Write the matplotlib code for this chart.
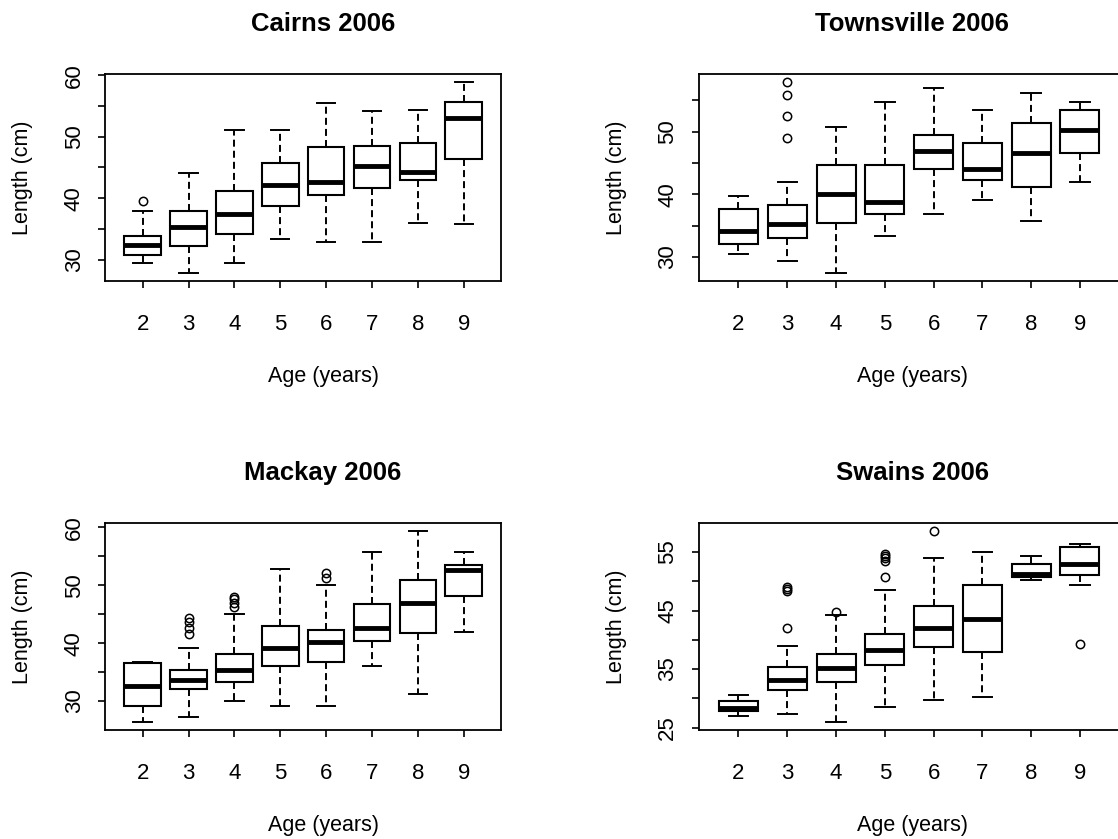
import matplotlib
matplotlib.use("Agg")
import matplotlib.pyplot as plt
import numpy as np

plt.rcParams['font.family'] = ['Liberation Sans', 'DejaVu Sans']

ages = [2, 3, 4, 5, 6, 7, 8, 9]

# Cairns 2006
cairns_lo  = [29.4, 27.8, 29.4, 33.4, 32.9, 32.9, 36.0, 35.8]
cairns_q1  = [30.7, 32.3, 34.2, 38.8, 40.5, 41.6, 42.9, 46.4]
cairns_med = [32.4, 35.3, 37.4, 42.2, 42.7, 45.3, 44.3, 53.1]
cairns_q3  = [33.9, 37.9, 41.1, 45.8, 48.3, 48.5, 49.0, 55.7]
cairns_hi  = [37.9, 44.1, 51.1, 51.1, 55.5, 54.1, 54.3, 58.9]
cairns_out = [[39.5], [], [], [], [], [], [], []]

# Townsville 2006
towns_lo  = [30.5, 29.3, 27.4, 33.4, 36.8, 39.1, 35.7, 42.0]
towns_q1  = [32.1, 33.1, 35.5, 36.8, 44.1, 42.2, 41.2, 46.6]
towns_med = [34.2, 35.2, 40.1, 38.8, 46.9, 44.0, 46.6, 50.3]
towns_q3  = [37.6, 38.3, 44.6, 44.6, 49.5, 48.2, 51.4, 53.4]
towns_hi  = [39.7, 41.9, 50.8, 54.7, 57.0, 53.4, 56.2, 54.7]
towns_out = [[], [49.0, 52.4, 55.9, 57.9], [], [], [], [], [], []]

# Mackay 2006
mackay_lo  = [26.3, 27.2, 30.0, 29.1, 29.1, 36.0, 31.2, 41.9]
mackay_q1  = [29.1, 32.0, 33.2, 36.0, 36.8, 40.4, 41.8, 48.1]
mackay_med = [32.6, 33.7, 35.4, 39.1, 40.2, 42.7, 47.0, 52.7]
mackay_q3  = [36.5, 35.4, 38.2, 43.0, 42.2, 46.7, 50.9, 53.5]
mackay_hi  = [36.8, 39.1, 45.0, 52.9, 50.1, 55.8, 59.4, 55.8]
mackay_out = [[], [41.6, 42.6, 43.6, 44.3], [46.2, 47.0, 47.6, 48.0], [], [51.2, 52.2], [], [], []]

# Swains 2006
swains_lo  = [27.0, 27.3, 25.9, 28.6, 29.8, 30.3, 50.2, 49.4]
swains_q1  = [27.8, 31.5, 32.8, 35.7, 38.8, 37.9, 50.7, 51.0]
swains_med = [28.4, 33.2, 35.1, 38.2, 42.1, 43.5, 51.3, 53.0]
swains_q3  = [29.5, 35.4, 37.6, 41.0, 45.7, 49.4, 53.0, 55.8]
swains_hi  = [30.6, 39.0, 44.3, 48.5, 53.9, 55.0, 54.4, 56.4]
swains_out = [[], [42.1, 48.3, 48.7, 49.0], [44.8], [50.7, 53.5, 53.9, 54.3, 54.7], [58.6], [], [], [39.3]]

titles = ["Cairns 2006", "Townsville 2006", "Mackay 2006", "Swains 2006"]
yticks = [np.arange(30, 61, 5), np.arange(30, 56, 5), np.arange(30, 61, 5), np.arange(25, 56, 5)]
ylabels_shown = [[30, 40, 50, 60], [30, 40, 50], [30, 40, 50, 60], [25, 35, 45, 55]]

panels = [
    (cairns_lo, cairns_q1, cairns_med, cairns_q3, cairns_hi, cairns_out),
    (towns_lo, towns_q1, towns_med, towns_q3, towns_hi, towns_out),
    (mackay_lo, mackay_q1, mackay_med, mackay_q3, mackay_hi, mackay_out),
    (swains_lo, swains_q1, swains_med, swains_q3, swains_hi, swains_out),
]

W, H = 1118, 839
fig = plt.figure(figsize=(W / 100, H / 100), dpi=100)

# axes rectangles in pixels: left, top, width, height
rects = [(105, 74.3, 396.4, 206.7), (698.5, 74.3, 421.4, 206.7),
         (105, 523.3, 396.4, 206.7), (698.5, 523.3, 421.4, 206.7)]
# horizontal centre of title / x label, in axes fraction
text_x = [0.55, 0.507, 0.55, 0.507]

for i, (lo, q1, med, q3, hi, out) in enumerate(panels):
    l, t, w, h = rects[i]
    ax = fig.add_axes([l / W, (H - t - h) / H, w / W, h / H])
    stats = []
    for k in range(len(ages)):
        stats.append(dict(whislo=lo[k], q1=q1[k], med=med[k], q3=q3[k],
                          whishi=hi[k], fliers=out[k]))
    pos = np.arange(1, len(ages) + 1)
    ax.bxp(stats, positions=pos, widths=0.8, patch_artist=True,
           boxprops=dict(facecolor='white', edgecolor='black', linewidth=1.5),
           medianprops=dict(color='black', linewidth=3.5, solid_capstyle='butt'),
           whiskerprops=dict(color='black', linewidth=1.4, linestyle=(0, (3.6, 2.1))),
           capprops=dict(color='black', linewidth=1.4),
           capwidths=0.4,
           flierprops=dict(marker='o', markersize=6, markerfacecolor='none',
                           markeredgecolor='black', markeredgewidth=1.1))

    # R-style range: 4% extension of the data range
    allv = lo + hi + [v for o in out for v in o]
    vmin, vmax = min(allv), max(allv)
    ext = 0.04 * (vmax - vmin)
    ax.set_ylim(vmin - ext, vmax + ext)
    xext = 0.04 * len(ages)
    ax.set_xlim(0.5 - xext, len(ages) + 0.5 + xext)

    ax.set_xticks(pos, [str(a) for a in ages])
    ax.set_yticks(yticks[i], [str(v) if v in ylabels_shown[i] else "" for v in yticks[i]])
    for lab in ax.get_yticklabels():
        lab.set_rotation(90)
        lab.set_va('center')
    ax.tick_params(axis='both', direction='out', length=5, width=1.2, labelsize=16,
                   color='black')
    ax.tick_params(axis='x', pad=19)
    ax.tick_params(axis='y', pad=9.5)
    for sp in ax.spines.values():
        sp.set_linewidth(1.3)

    ax.set_title(titles[i], fontsize=18.5, fontweight='bold', pad=31, x=text_x[i])
    ax.set_xlabel("Age (years)", fontsize=15.5, labelpad=22, x=text_x[i])
    ax.set_ylabel("Length (cm)", fontsize=15.5, labelpad=22)

fig.savefig("out.png", dpi=100)
